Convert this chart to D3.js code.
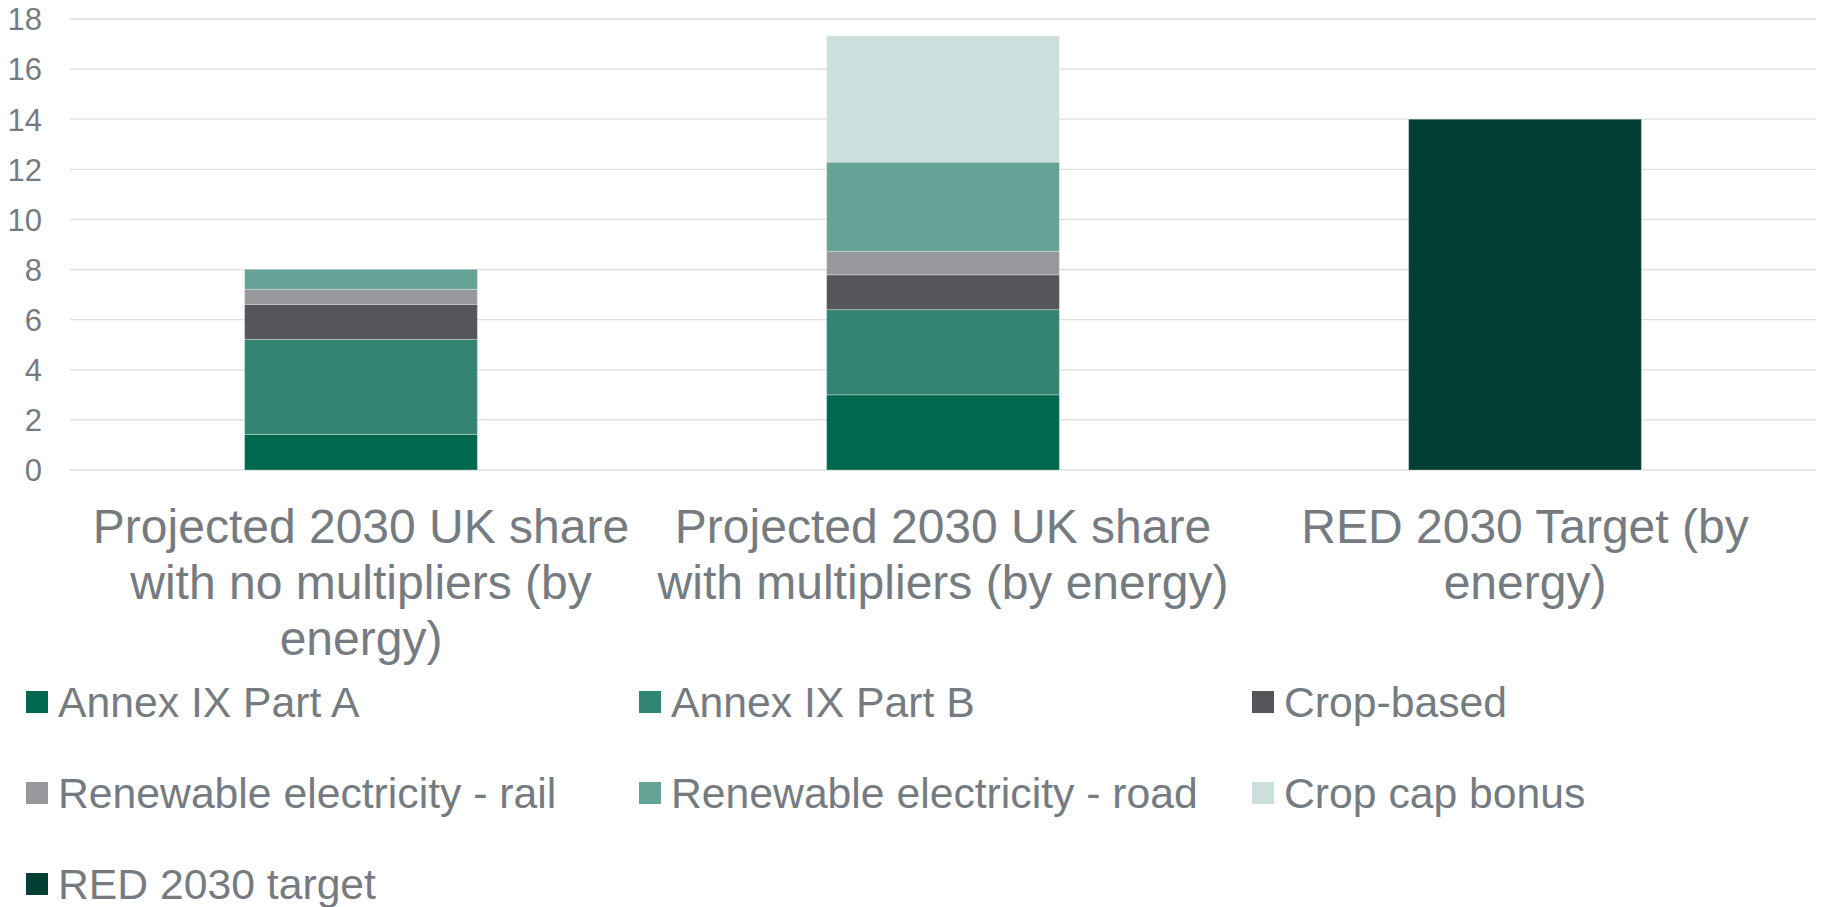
<!DOCTYPE html>
<html>
<head>
<meta charset="utf-8">
<script src="https://cdn.jsdelivr.net/npm/d3@7"></script>
<style>
    body { margin: 0; background: #fff; }
    text { font-family: "Liberation Sans", Arial, sans-serif; fill: #767b81; }
</style>
</head>
<body>
<script>
// Chart data
var categories = [
    "Projected 2030 UK share with no multipliers (by energy)",
    "Projected 2030 UK share with multipliers (by energy)",
    "RED 2030 Target (by energy)"
];
var seriesNames = [
    "Annex IX Part A", "Annex IX Part B", "Crop-based",
    "Renewable electricity - rail", "Renewable electricity - road",
    "Crop cap bonus", "RED 2030 target"
];
var annexA       = [1.42, 3.00, 0];
var annexB       = [3.79, 3.40, 0];
var cropBased    = [1.40, 1.39, 0];
var railElec     = [0.60, 0.94, 0];
var roadElec     = [0.80, 3.56, 0];
var cropCapBonus = [0, 5.03, 0];
var redTarget    = [0, 0, 14.0];
var yTicks = [0, 2, 4, 6, 8, 10, 12, 14, 16, 18];

var colors = ["#00684f", "#338573", "#55565b", "#97989b",
              "#65a397", "#cbe0dd", "#013e33"];

var allSeries = [annexA, annexB, cropBased, railElec, roadElec,
                 cropCapBonus, redTarget];

// build rows for d3.stack
var rows = categories.map(function(c, i) {
    var r = {cat: c};
    seriesNames.forEach(function(s, j) { r[s] = allSeries[j][i]; });
    return r;
});

var W = 1825, H = 907;
var margin = {top: 19, left: 70, right: 9};
var plotBottom = 470;

var svg = d3.select("body").append("svg")
    .attr("width", W)
    .attr("height", H);

var xScale = d3.scaleBand()
    .domain(categories)
    .range([margin.left, W - margin.right])
    .paddingInner(0.6)
    .paddingOuter(0.3);

var yScale = d3.scaleLinear().domain([0, 18]).range([plotBottom, margin.top]);

// gridlines
svg.append("g")
    .selectAll("line")
    .data(yTicks)
    .enter()
    .append("line")
    .attr("x1", margin.left)
    .attr("x2", W - margin.right)
    .attr("y1", function(d) { return yScale(d); })
    .attr("y2", function(d) { return yScale(d); })
    .attr("stroke", "#dedede")
    .attr("stroke-width", 1.3);

// y axis labels
var yAxis = d3.axisLeft(yScale).tickValues(yTicks).tickSize(0).tickPadding(0);
var yG = svg.append("g")
    .attr("transform", "translate(42,0)")
    .call(yAxis);
yG.select(".domain").remove();
yG.selectAll("text")
    .attr("font-size", "31px")
    .attr("dy", "0.35em")
    .style("fill", "#767b81")
    .style("font-family", "'Liberation Sans', Arial, sans-serif");

// stacked bars
var stack = d3.stack().keys(seriesNames);
var layers = stack(rows);

svg.append("g")
    .selectAll("g")
    .data(layers)
    .enter()
    .append("g")
    .attr("fill", function(d, i) { return colors[i]; })
    .selectAll("rect")
    .data(function(d) { return d.filter(function(p) { return p[1] - p[0] > 0; }); })
    .enter()
    .append("rect")
    .attr("x", function(d) { return xScale(d.data.cat); })
    .attr("width", xScale.bandwidth())
    .attr("y", function(d) { return yScale(d[1]); })
    .attr("height", function(d) { return yScale(d[0]) - yScale(d[1]); })
    .attr("stroke", "#ffffff")
    .attr("stroke-opacity", 0.3)
    .attr("stroke-width", 1);

// category labels, wrapped to the band step
var step = xScale.step();
var catLabels = svg.append("g")
    .selectAll("text")
    .data(categories)
    .enter()
    .append("text")
    .attr("x", function(d) { return xScale(d) + xScale.bandwidth() / 2; })
    .attr("y", 543)
    .attr("text-anchor", "middle")
    .attr("font-size", "48px")
    .text(function(d) { return d; });

catLabels.each(function() {
    var t = d3.select(this);
    var words = t.text().split(/\s+/);
    var x = t.attr("x");
    t.text(null);
    var line = [];
    var tspan = t.append("tspan").attr("x", x).attr("dy", 0);
    words.forEach(function(w) {
        line.push(w);
        tspan.text(line.join(" "));
        if (tspan.node().getComputedTextLength() > step && line.length > 1) {
            line.pop();
            tspan.text(line.join(" "));
            line = [w];
            tspan = t.append("tspan").attr("x", x).attr("dy", "56px").text(w);
        }
    });
});

// legend, three columns
var legend = svg.append("g")
    .selectAll("g")
    .data(seriesNames)
    .enter()
    .append("g")
    .attr("transform", function(d, i) {
        var col = i % 3, row = Math.floor(i / 3);
        return "translate(" + (26 + col * 613) + "," + (702 + row * 91) + ")";
    });

legend.append("rect")
    .attr("x", 0)
    .attr("y", -11)
    .attr("width", 22)
    .attr("height", 22)
    .attr("fill", function(d, i) { return colors[i]; });

legend.append("text")
    .attr("x", 32)
    .attr("y", 15)
    .attr("font-size", "42.7px")
    .text(function(d) { return d; });
</script>
</body>
</html>
